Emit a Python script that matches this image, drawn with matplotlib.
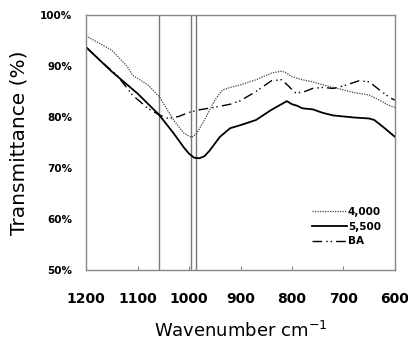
import matplotlib.pyplot as plt

# волновые числа и пропускание (%)
wn_4000 = [1200, 1150, 1120, 1110, 1080, 1058, 1030, 1010, 995, 985, 970, 950, 935, 920, 900,
           870, 840, 820, 810, 800, 780, 760, 740, 700, 680, 650, 630, 610, 600]
t_4000 = [95.9, 93.1, 89.9, 88.2, 86.3, 84.0, 79.4, 76.8, 76.0, 76.8, 79.4, 83.3, 85.3, 85.8, 86.3,
          87.3, 88.6, 89.0, 88.6, 87.9, 87.3, 86.9, 86.3, 85.3, 84.8, 84.3, 83.3, 82.2, 81.9]

wn_5500 = [1200, 1150, 1100, 1058, 1030, 1010, 1000, 990, 980, 970, 960, 940, 920, 900, 870, 840, 810,
           800, 790, 780, 760, 740, 720, 700, 680, 650, 640, 620, 600]
t_5500 = [93.7, 88.9, 84.6, 80.4, 76.8, 74.0, 72.8, 72.0, 71.9, 72.3, 73.4, 76.1, 77.8, 78.4, 79.4, 81.4, 83.1,
          82.5, 82.2, 81.7, 81.5, 80.8, 80.3, 80.1, 79.9, 79.7, 79.4, 77.8, 76.1]

wn_ba = [1200, 1170, 1140, 1110, 1080, 1058, 1040, 1020, 1000, 980, 950, 920, 900, 870, 840,
         820, 805, 795, 780, 760, 740, 720, 700, 670, 650, 630, 610, 600]
t_ba = [93.7, 90.8, 88.2, 84.3, 81.7, 80.4, 79.7, 80.1, 80.9, 81.4, 81.9, 82.5, 83.2, 85.0, 87.1,
        87.3, 85.9, 84.8, 84.8, 85.6, 85.8, 85.6, 86.1, 87.1, 86.9, 85.3, 83.8, 83.3]

vlines = [1058, 997, 986]
xticks = [1200, 1100, 1000, 900, 800, 700, 600]
yticks = [50, 60, 70, 80, 90, 100]

fig = plt.figure(figsize=(4.08, 3.42), dpi=100)
ax = fig.add_axes([0.211, 0.211, 0.757, 0.745])

for v in vlines:
    ax.axvline(v, color='#777777', lw=1.0, zorder=1)

ax.plot(wn_4000, t_4000, color='#444444', lw=0.9, ls=(0, (1, 1)), label='4,000')
ax.plot(wn_5500, t_5500, color='black', lw=1.3, label='5,500')
ax.plot(wn_ba, t_ba, color='black', lw=1.0, ls=(0, (7, 3, 1, 2, 1, 3)), label='BA')

ax.set_xlim(1200, 600)
ax.set_ylim(50, 100)
ax.set_xticks(xticks)
ax.set_xticklabels([str(x) for x in xticks], fontweight='bold', fontsize=10)
ax.set_yticks(yticks)
ax.set_yticklabels([f'{y}%' for y in yticks], fontweight='bold', fontsize=7.5)
ax.tick_params(axis='x', direction='in', length=3, color='#888888', pad=16)
ax.tick_params(axis='y', length=0, pad=10)
for s in ax.spines.values():
    s.set_color('#888888')
    s.set_linewidth(1.0)

ax.set_xlabel('Wavenumber cm$^{-1}$', fontsize=13, labelpad=11)
ax.set_ylabel('Transmittance (%)', fontsize=14.5, labelpad=8)

leg = ax.legend(loc='lower right', bbox_to_anchor=(0.985, 0.055), frameon=False,
                handlelength=3.3, handletextpad=0.1, labelspacing=0.45,
                prop={'weight': 'bold', 'size': 7.5})

fig.savefig('out.png', dpi=100)
